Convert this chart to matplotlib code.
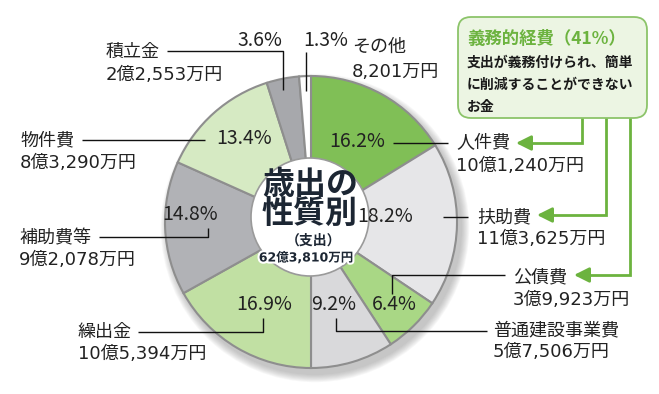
import matplotlib
matplotlib.use("Agg")
import matplotlib.pyplot as plt
from matplotlib.patches import Circle, FancyBboxPatch
import matplotlib.patheffects as pe

plt.rcParams['font.family'] = ['Noto Sans CJK JP', 'DejaVu Sans']
MIX = ['DejaVu Sans', 'Noto Sans CJK JP']

# ---- data ----
categories = ["人件費", "扶助費", "公債費", "普通建設事業費", "繰出金",
              "補助費等", "物件費", "積立金", "その他"]
shares = [16.2, 18.2, 6.4, 9.2, 16.9, 14.8, 13.4, 3.6, 1.3]
amounts = ["10億1,240万円", "11億3,625万円", "3億9,923万円", "5億7,506万円",
           "10億5,394万円", "9億2,078万円", "8億3,290万円", "2億2,553万円",
           "8,201万円"]
colors = ["#80bf56", "#e6e6e8", "#a9d785", "#d9d9db", "#c1e0a3",
          "#b1b2b6", "#d6eac3", "#a7a8ac", "#ffffff"]
center_title = "歳出の\n性質別"
center_sub = "（支出）"
center_total = "62億3,810万円"
box_title = "義務的経費（41%）"
box_body = ["支出が義務付けられ、簡単", "に削減することができない", "お金"]

W, H = 659, 394
fig = plt.figure(figsize=(W / 100, H / 100), dpi=100)
ax = fig.add_axes([0, 0, 1, 1])

def Y(y):
    return H - y

cx, cy, R = 311, 222, 146

# shadow
for k in range(9):
    ax.add_patch(Circle((cx + 4, Y(cy + 6)), R + 1 + k * 0.9, color="#808080",
                        alpha=0.06, lw=0, zorder=0))

ax.pie(shares, colors=colors, startangle=90, counterclock=False,
       center=(cx, Y(cy)), radius=R,
       wedgeprops=dict(edgecolor="#8e8e8e", linewidth=1.5), frame=True)
ax.set_xlim(0, W)
ax.set_ylim(0, H)
ax.set_aspect('equal')
ax.axis('off')

# center circle
ax.add_patch(Circle((cx - 1, Y(217)), 59, facecolor="white", edgecolor="#9a9a9a",
                    lw=1.2, zorder=3))
tcol = "#1c2633"
ax.text(cx - 1, Y(200), center_title, fontsize=23, fontweight='bold',
        color=tcol, ha='center', va='center', zorder=5, linespacing=0.92)
ax.text(cx + 3, Y(241), center_sub, fontsize=10, fontweight='bold',
        color=tcol, ha='center', va='center', zorder=5)
ax.text(cx - 5, Y(258), center_total, fontsize=9, fontweight='bold',
        color=tcol, ha='center', va='center', zorder=5, family=MIX,
        path_effects=[pe.withStroke(linewidth=3, foreground='white')])

# percent labels (positions in pixel coords)
pct_pos = [(357, 141), (385, 216), (394, 305), (334, 304), (264, 304),
           (190, 214), (244, 138), (260, 40), (326, 40)]
pcol = "#222222"
for s, (px, py) in zip(shares, pct_pos):
    ax.text(px, Y(py), f"{s}%", fontsize=14, color=pcol, ha='center',
            va='center', zorder=5)

# category labels: (x_left, y_line1, y_line2)
lab_pos = [(456, 143, 166), (477, 217, 239), (513, 277, 300), (493, 330, 352),
           (78, 332, 354), (19, 238, 260), (20, 140, 163), (106, 52, 75),
           (352, 47, 72)]
for c, a, (lx, y1, y2) in zip(categories, amounts, lab_pos):
    ax.text(lx, Y(y1), c, fontsize=13, color=pcol, ha='left', va='center')
    ax.text(lx, Y(y2), a, fontsize=13, color=pcol, ha='left', va='center',
            family=MIX)

# leader lines
leaders = [
    [(393, 143), (448, 143)],
    [(443, 217), (468, 217)],
    [(392, 294), (392, 275), (505, 275)],
    [(336, 318), (336, 331), (487, 331)],
    [(263, 318), (263, 332), (138, 332)],
    [(208, 228), (208, 237), (99, 237)],
    [(205, 140), (82, 140)],
    [(167, 51), (283, 51), (283, 90)],
    [(306, 52), (306, 91)],
]
for pts in leaders:
    xs = [p[0] for p in pts]
    ys = [Y(p[1]) for p in pts]
    ax.plot(xs, ys, color="#111111", lw=1, zorder=6, solid_capstyle='butt')

# green box
gcol = "#6cb33f"
box = FancyBboxPatch((458, Y(118)), 189, 101,
                     boxstyle="round,pad=0,rounding_size=13",
                     facecolor="#ecf5e3", edgecolor="#8cc46a", lw=1.3, zorder=4)
ax.add_patch(box)
ax.text(467, Y(39), box_title, fontsize=12.5, fontweight='bold', color=gcol,
        ha='left', va='center', zorder=5)
for i, line in enumerate(box_body):
    ax.text(467, Y(63 + 22 * i), line, fontsize=10, fontweight='bold',
            color="#1a1a1a", ha='left', va='center', zorder=5)

# green arrows
arrows = [(582, 143, 516), (606, 215, 537), (630, 275, 574)]
for vx, hy, tip in arrows:
    ax.plot([vx, vx, tip + 10], [Y(118), Y(hy), Y(hy)], color=gcol, lw=2,
            zorder=3, solid_joinstyle='miter')
    ax.annotate('', xy=(tip, Y(hy)), xytext=(tip + 14, Y(hy)),
                arrowprops=dict(arrowstyle='-|>,head_length=0.9,head_width=0.45',
                                color=gcol, lw=2, shrinkA=0, shrinkB=0),
                zorder=4)

fig.savefig("out.png", dpi=100)
